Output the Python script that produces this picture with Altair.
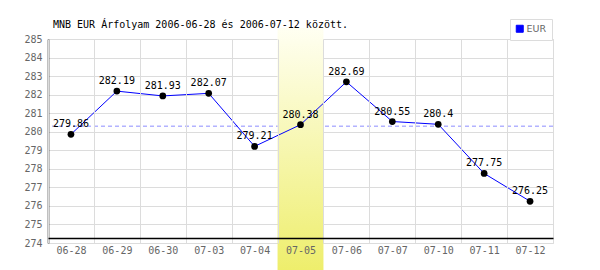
import altair as alt
import pandas as pd

dates = ["06-28", "06-29", "06-30", "07-03", "07-04", "07-05",
         "07-06", "07-07", "07-10", "07-11", "07-12"]
rates = [279.86, 282.19, 281.93, 282.07, 279.21, 280.38,
         282.69, 280.55, 280.4, 277.75, 276.25]
series_name = "EUR"
highlight_date = "07-05"
average_rate = 280.3
y_ticks = [274, 275, 276, 277, 278, 279, 280, 281, 282, 283, 284, 285]
title_text = "MNB EUR Árfolyam 2006-06-28 és 2006-07-12 között."

df = pd.DataFrame({"date": dates, "rate": rates, "series": [series_name] * len(dates)})
avg_df = pd.DataFrame({"rate": [average_rate]})
hl_df = pd.DataFrame({"date": [highlight_date]})

MONO = "DejaVu Sans Mono"

x_enc = alt.X(
    "date:N", sort=dates, title=None,
    scale=alt.Scale(type="band", domain=dates, paddingInner=0, paddingOuter=0),
    axis=alt.Axis(
        labelAngle=0, tickBand="extent", grid=True, gridColor="#dcdcdc",
        ticks=False, domainColor="black", domainWidth=1.5, offset=-5,
        labelFont=MONO, labelFontSize=10, labelColor="#666666",
        labelPadding=7, zindex=1,
    ),
)
y_enc = alt.Y(
    "rate:Q", title=None,
    scale=alt.Scale(domain=[y_ticks[0], y_ticks[-1]], nice=False, zero=False),
    axis=alt.Axis(
        values=y_ticks, grid=True, gridColor="#dcdcdc", ticks=False,
        domainColor="black", domainWidth=1.5, labelFont=MONO, labelFontSize=10,
        labelColor="#666666", labelPadding=6, labelFlush=False, labelOverlap=False,
    ),
)

avg_rule = alt.Chart(avg_df).mark_rule(
    color="#8c8cff", strokeDash=[4, 3], strokeWidth=1
).encode(y=y_enc)

gradient = alt.Gradient(
    gradient="linear", x1=0, x2=0, y1=0, y2=1,
    stops=[alt.GradientStop(color="#fffff2", offset=0),
           alt.GradientStop(color="#eeee6c", offset=1)],
)
band = alt.Chart(hl_df).mark_rect(fill=gradient, stroke=None).encode(
    x=x_enc, y=alt.value(-11), y2=alt.value(231)
)

line = alt.Chart(df).mark_line(strokeWidth=1).encode(
    x=x_enc, y=y_enc,
    color=alt.Color(
        "series:N",
        scale=alt.Scale(domain=[series_name], range=["#0000ff"]),
        legend=alt.Legend(
            title=None, orient="none", legendX=462, legendY=-20,
            symbolType="square", symbolSize=49, symbolFillColor="#0000ff",
            symbolStrokeColor="#000066", symbolStrokeWidth=1,
            labelFont="DejaVu Sans", labelFontSize=9.5, labelColor="#666666",
            labelOffset=2, strokeColor="#dcdcdc", fillColor="white", padding=5,
            labelExpr="datum.label + '  '",
        ),
    ),
)

points = alt.Chart(df).mark_circle(color="black", size=45, opacity=1).encode(
    x=x_enc, y=y_enc
)

labels = alt.Chart(df).mark_text(
    font=MONO, fontSize=10, color="black", dy=-7, baseline="alphabetic"
).encode(x=x_enc, y=y_enc, text=alt.Text("rate:Q"))

chart = alt.layer(avg_rule, band, line, points, labels).properties(
    width=505, height=204,
    autosize=alt.AutoSizeParams(type="none"),
    padding={"left": 48, "top": 39, "right": 47, "bottom": 27},
    title=alt.TitleParams(
        text=title_text, anchor="start", frame="group", font=MONO, fontSize=10,
        fontWeight="normal", color="black", baseline="alphabetic", offset=12,
        dx=5, dy=31,
    ),
).configure_view(stroke=None).configure(background="white")

chart.save("out.html", embed_options={"renderer": "svg", "actions": False})
